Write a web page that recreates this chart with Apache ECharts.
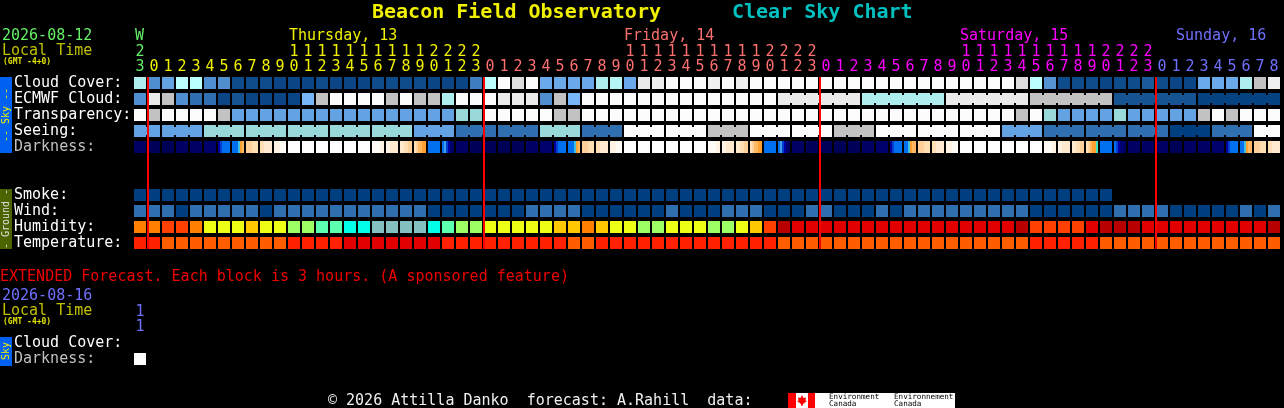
<!DOCTYPE html>
<html>
<head>
<meta charset="utf-8">
<style>html,body{margin:0;padding:0;background:#000;overflow:hidden}#c{width:1284px;height:408px}</style>
<script src="https://cdn.jsdelivr.net/npm/echarts@6/dist/echarts.min.js"></script>
</head>
<body>
<div id="c"></div>
<script>
const hours = ['23','0','1','2','3','4','5','6','7','8','9','10','11','12','13','14','15','16','17','18','19','20','21','22','23',
'0','1','2','3','4','5','6','7','8','9','10','11','12','13','14','15','16','17','18','19','20','21','22','23',
'0','1','2','3','4','5','6','7','8','9','10','11','12','13','14','15','16','17','18','19','20','21','22','23',
'0','1','2','3','4','5','6','7','8'];
const skyRows = ['Cloud Cover:','ECMWF Cloud:','Transparency:','Seeing:','Darkness:','','','Smoke:','Wind:','Humidity:','Temperature:'];
const extRows = ['Cloud Cover:','Darkness:'];
const extHours = ['11'];
const midnightCols = [1,25,49,73];

const cloudCover = [70,30,40,75,75,30,30,8,8,8,5,5,5,8,5,5,5,8,8,8,8,5,5,5,25,75,100,85,100,45,45,45,45,70,72,45,90,95,100,100,100,95,100,95,
100,100,100,100,100,100,100,100,100,100,100,100,100,100,100,100,100,100,100,85,75,35,8,8,8,5,8,8,10,8,5,5,45,45,45,70,80,95];
const ecmwfCloud = [30,90,80,30,20,20,5,12,5,5,5,5,50,80,100,100,100,100,80,100,80,80,70,100,100,100,90,90,90,30,80,50,
100,100,100,100,100,100,100,100,100,100,100,100,100,100,90,90,90,90,90,90,70,70,70,70,70,70,90,90,90,90,90,90,80,80,80,80,80,80,12,12,12,12,12,12,3,3,3,3,3,3];
const transparency = [100,80,100,100,100,100,80,40,40,40,40,40,40,40,40,40,40,40,40,40,40,40,40,60,60,100,100,100,100,100,80,80,
100,100,100,100,100,100,100,100,100,100,100,100,100,100,100,100,100,100,100,100,100,100,100,100,100,100,100,100,100,100,100,80,100,60,40,40,40,40,60,40,40,40,40,40,80,100,80,100,100,100];
const seeing = [40,40,40,40,40,60,60,60,60,60,60,60,60,60,60,60,60,60,60,60,40,40,40,20,20,20,20,20,20,60,60,60,20,20,20,100,100,100,100,100,100,80,80,80,
100,100,100,100,100,100,80,80,80,100,100,100,100,100,100,100,100,100,40,40,40,20,20,20,20,20,20,20,20,20,0,0,0,20,20,20,100,100];
const seeingBlockStarts = [0,2,5,8,11,14,17,20,23,26,29,32,35,38,41,44,47,50,53,56,59,62,65,68,71,74,77,80];
const ecmwfBlockStarts = [46,52,58,64,70,76];
const darkness = [2,1,1,2,2,3,
[5,6,7,7,7,7],[7,7,7,9,10,11],[12,12,12,13,13,13],[13,13,14,14,14,14],[15,15,15,16,16,16],
17,17,17,17,17,17,
[16,16,16,16,15,15],[15,15,14,14,14,14],[14,14,13,13,12,12],[13,12,11,11,10,10],
7,[7,8,6,5,3,2],
2,1,1,1,1,2,3,
[5,6,7,7,7,7],[7,7,7,9,10,11],[12,12,12,13,13,13],[13,13,14,14,14,14],[15,15,15,16,16,16],
17,17,17,17,17,17,
[16,16,16,16,15,15],[15,15,14,14,14,14],[14,14,13,13,12,12],[13,12,11,11,10,10],
7,[7,8,6,5,3,2],
2,1,1,1,1,2,3,
[5,6,7,7,7,7],[7,7,9,10,11,11],[12,12,12,13,13,13],[13,13,14,14,14,14],[15,15,15,16,16,16],
17,17,17,17,17,17,
[16,16,16,16,15,15],[15,15,14,14,14,14],[14,14,13,13,12,12],[13,12,11,10,10,18],
7,[7,6,5,4,3,2],
2,2,2,1,2,2,3,
[5,6,7,7,7,7],[7,7,9,10,11,11],[12,12,12,13,13,13],[13,13,14,14,14,14]];
const smoke = [0,0,0,0,0,0,0,0,0,0,0,0,0,0,0,0,0,0,0,0,0,0,0,0,0,0,0,0,0,0,0,0,0,0,0,0,0,0,0,0,0,0,0,0,0,0,0,0,0,0,0,0,0,0,0,0,0,0,0,0,0,0,0,0,0,0,0,0,0,0];
const wind = [8,8,8,3,8,8,8,8,8,3,8,8,8,8,8,8,8,8,8,8,8,3,3,3,3,3,3,3,8,8,8,8,3,3,3,3,3,3,8,3,3,3,8,8,8,3,3,3,8,8,3,3,
3,8,3,8,8,8,8,8,8,8,8,8,3,3,3,3,3,3,8,8,8,8,3,3,3,3,3,8,3,8];
const humidity = [82,82,87,87,82,72,72,72,77,72,72,67,67,62,62,57,57,52,52,52,52,57,62,67,67,72,72,72,72,72,77,77,82,77,72,72,67,67,72,72,72,67,67,72,77,87,97,92,92,92,92,92,
92,92,92,92,92,92,92,92,92,92,92,97,87,87,87,87,92,97,97,97,92,92,92,92,92,92,92,92,92,97];
const temperature = [26,26,24,24,24,24,24,24,24,24,24,26,26,26,26,28,28,28,28,28,28,28,26,26,26,26,26,26,26,26,26,24,24,26,26,26,26,26,26,26,26,26,26,26,26,26,24,24,24,24,24,24,
24,24,24,24,24,24,24,24,24,24,24,24,26,26,26,26,26,24,24,24,24,24,24,24,24,24,24,24,24,24];
const extDarkness = [17];

const coverColors = {0:'#003F7F',3:'#044282',5:'#0A4686',8:'#0F4C8C',10:'#1B5B9B',12:'#165393',20:'#2F6FAF',25:'#3E7EBE',30:'#4F8FCF',35:'#5593D3',40:'#63A3E3',45:'#6AA9EA',50:'#77B7F7',60:'#99D9D9',70:'#AEEEEE',72:'#B5F5F5',75:'#BBFFFF',80:'#C2C2C2',85:'#DDDDDD',90:'#EAEAEA',95:'#F0F0F0',100:'#FCFCFC'};
const darkColors = ['#00004A','#000058','#000064','#00006C','#000078','#0000A0','#0040D0','#0070F0','#40A0F0','#40C0E0','#FFA030','#FFB860','#FFD09A','#FFE0B4','#FFEAD0','#FFF3E4','#FFFBF6','#FFFFFF','#40E0C0'];
const smokeColors = {0:'#003F7F'};
const windColors = {3:'#003F7F',8:'#2F6FAF'};
const humidityColors = {52:'#84C0C0',57:'#00FFE6',62:'#5CFFAF',67:'#9EFF64',72:'#ECFF14',77:'#FFC800',82:'#FF8000',87:'#FF4000',92:'#E00000',97:'#B80000'};
const tempColors = {24:'#FF5C00',26:'#FF2000',28:'#E00000'};

const hourColor = i => i<1 ? '#66F066' : i<25 ? '#F0F000' : i<49 ? '#FF7070' : i<73 ? '#FF00FF' : '#7070FF';
const MONO = '"DejaVu Sans Mono"';

function cells(values, row, colors, starts, xi){
  const data = values.map((v,i)=>[i,row,v,(starts && i+1<values.length && values[i+1]===v && starts.indexOf(i+1)<0 && i>=starts[0])?1:0]);
  return {type:'custom',xAxisIndex:xi||0,yAxisIndex:xi||0,silent:true,z:2,data,
    renderItem(p,api){
      const c=api.coord([api.value(0),api.value(1)]), s=api.size([1,1]);
      const x=c[0]-s[0]/2+1, y=c[1]-s[1]/2+2, w=s[0]-2, h=s[1]-4, fill=colors[api.value(2)];
      const kids=[{type:'rect',shape:{x,y,width:w,height:h},style:{fill}}];
      if(api.value(3)) kids.push({type:'rect',shape:{x:x+w,y:y+2,width:2,height:h-4},style:{fill}});
      return {type:'group',children:kids};
    }};
}
function darkCells(values,row,xi){
  return {type:'custom',xAxisIndex:xi||0,yAxisIndex:xi||0,silent:true,z:2,data:values.map((v,i)=>[i,row,i]),
    renderItem(p,api){
      const c=api.coord([api.value(0),api.value(1)]), s=api.size([1,1]);
      const x=c[0]-s[0]/2+1, y=c[1]-s[1]/2+2, w=s[0]-2, h=s[1]-4;
      const v=values[api.value(2)];
      const list=Array.isArray(v)?v:[v];
      const sw=w/list.length;
      return {type:'group',children:list.map((l,k)=>({type:'rect',shape:{x:x+k*sw,y,width:sw,height:h},style:{fill:darkColors[l]}}))};
    }};
}
const midnightSeries = {type:'custom',silent:true,z:5,data:midnightCols.map(c=>[c,0,10]),
  renderItem(p,api){
    const a=api.coord([api.value(0),api.value(1)]), b=api.coord([api.value(0),api.value(2)]), s=api.size([1,1]);
    const top=a[1]-s[1]/2+2, bot=b[1]+s[1]/2-2;
    return {type:'rect',shape:{x:a[0]-s[0]/2,y:top,width:2,height:bot-top},style:{fill:'#FF0000'}};
  }};

const txt=(text,x,y,fill,size,weight)=>({type:'text',x,y:y+1,silent:true,style:{text,fill,font:(weight||'normal')+' '+(size||15)+'px '+MONO,verticalAlign:'middle'}});
const vert=(text,x,y,fill)=>({type:'text',x,y,rotation:Math.PI/2,silent:true,style:{text,fill,font:'10px '+MONO,align:'center',verticalAlign:'middle'}});
const box=(x,y,w,h,fill)=>({type:'rect',shape:{x,y,width:w,height:h},silent:true,style:{fill}});

const graphicEls=[
  txt('Beacon Field Observatory',372,12,'#F0F000',20,'bold'),
  txt('Clear Sky Chart',732,12,'#00C0C0',20,'bold'),
  txt('2026-08-12',2,35,'#66F066'),
  txt('Local Time',2,50,'#C0C000'),
  txt('(GMT -4+0)',3,61,'#E0E000',8,'bold'),
  txt('W',135,35,'#66F066'),
  txt('Thursday, 13',289,35,'#F0F000'),
  txt('Friday, 14',624,35,'#FF7070'),
  txt('Saturday, 15',960,35,'#FF00FF'),
  txt('Sunday, 16',1176,35,'#7070FF'),
  box(0,77,12,76,'#0060F0'),
  vert('-- Sky --',6,115,'#F0F000'),
  box(0,189,12,60,'#4C6400'),
  vert('- Ground -',6,219,'#E0E0E0'),
  txt('EXTENDED Forecast. Each block is 3 hours. (A sponsored feature)',0,276,'#F00000'),
  txt('2026-08-16',2,295,'#7070FF'),
  txt('Local Time',2,310,'#C0C000'),
  txt('(GMT -4+0)',3,321,'#E0E000',8,'bold'),
  box(0,337,12,29,'#0060F0'),
  vert('Sky',6,351,'#F0F000'),
  txt('\u00A9 2026 Attilla Danko  forecast: A.Rahill  data:',328,400,'#F0F0F0'),
  box(788,393,27,15,'#FF0000'),
  box(796,393,12,15,'#FFFFFF'),
  {type:'polygon',silent:true,shape:{points:[[802,395],[803.5,398],[806,397.5],[805.5,400.5],[807,401],[803,404],[802.5,406],[801.5,406],[801,404],[797,401],[798.5,400.5],[798,397.5],[800.5,398]]},style:{fill:'#FF0000'}},
  box(815,393,140,15,'#FFFFFF'),
  txt('Environment',829,396,'#000000',7.6),
  txt('Canada',829,403.5,'#000000',7.6),
  txt('Environnement',894,396,'#000000',7.6),
  txt('Canada',894,403.5,'#000000',7.6)
];

const chart=echarts.init(document.getElementById('c'),null,{renderer:'canvas',width:1284,height:408});
const xLabel=(list,color)=>({interval:0,hideOverlap:false,margin:0,lineHeight:15,fontFamily:MONO,fontSize:15,color,
  formatter:(v,i)=>list[i].length>1?list[i][0]+'\n'+list[i][1]:list[i]});
const yLabel={interval:0,align:'left',margin:119,fontFamily:MONO,fontSize:15,color:v=>v==='Darkness:'?'#C0C0C0':'#FFFFFF'};
chart.setOption({
  backgroundColor:'#000000',
  animation:false,
  tooltip:{show:false},
  grid:[{left:133,top:75,width:hours.length*14,height:skyRows.length*16},
        {left:133,top:335,width:14,height:32}],
  xAxis:[
    {type:'category',gridIndex:0,position:'top',data:hours.map((h,i)=>i+':'+h),axisLine:{show:false},axisTick:{show:false},splitLine:{show:false},axisLabel:xLabel(hours,(v,i)=>hourColor(+v.split(':')[0]))},
    {type:'category',gridIndex:1,position:'top',data:extHours,axisLine:{show:false},axisTick:{show:false},splitLine:{show:false},axisLabel:xLabel(extHours,'#7070FF')}
  ],
  yAxis:[
    {type:'category',gridIndex:0,inverse:true,data:skyRows,axisLine:{show:false},axisTick:{show:false},splitLine:{show:false},axisLabel:yLabel},
    {type:'category',gridIndex:1,inverse:true,data:extRows,axisLine:{show:false},axisTick:{show:false},splitLine:{show:false},axisLabel:yLabel}
  ],
  series:[
    cells(cloudCover,0,coverColors),
    cells(ecmwfCloud,1,coverColors,ecmwfBlockStarts),
    cells(transparency,2,coverColors),
    cells(seeing,3,coverColors,seeingBlockStarts),
    darkCells(darkness,4),
    cells(smoke,7,smokeColors),
    cells(wind,8,windColors),
    cells(humidity,9,humidityColors),
    cells(temperature,10,tempColors),
    darkCells(extDarkness,1,1),
    midnightSeries
  ],
  graphic:{elements:graphicEls}
});
</script>
</body>
</html>
